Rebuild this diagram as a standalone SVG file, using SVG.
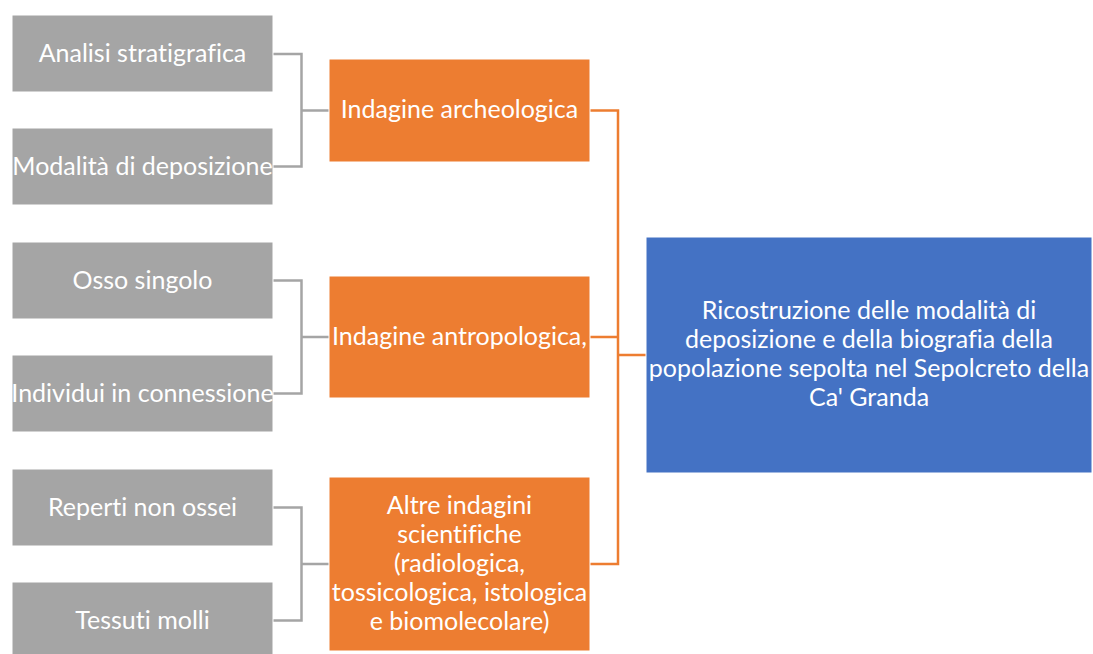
<svg xmlns="http://www.w3.org/2000/svg" width="1093" height="654" viewBox="0 0 1093 654">
<style>
.g{fill:#A5A5A5;stroke:#FFFFFF;stroke-width:1}
.o{fill:#ED7D31;stroke:#FFFFFF;stroke-width:1}
.b{fill:#4472C4;stroke:#FFFFFF;stroke-width:1}
.t{font-family:Lato,"Open Sans","Liberation Sans",sans-serif;font-size:25px;fill:#FFFFFF;text-anchor:middle;font-variant-ligatures:none;font-feature-settings:"liga" 0,"clig" 0,"dlig" 0}
.cg{fill:none;stroke:#A5A5A5;stroke-width:2.5}
.co{fill:none;stroke:#ED7D31;stroke-width:2.5}
</style>
<rect width="1093" height="654" fill="#FFFFFF"/>
<g id="connectors">
<path class="cg" d="M273,54 H301.5 V166.5 H273 M301.5,110.5 H329"/>
<path class="cg" d="M273,280.5 H301.5 V393.5 H273 M301.5,337 H329"/>
<path class="cg" d="M273,507.5 H301.5 V620.5 H273 M301.5,564 H329"/>
<path class="co" d="M590,110.5 H618 V564 H590 M590,337 H618 M618,355 H646"/>
</g>
<g id="n1"><rect class="g" x="12" y="15" width="261" height="77"/><text class="t" x="142.5" y="62">Analisi stratigrafica</text></g>
<g id="n2"><rect class="g" x="12" y="128" width="261" height="77"/><text class="t" x="142.5" y="175">Modalità di deposizione</text></g>
<g id="n3"><rect class="g" x="12" y="242" width="261" height="77"/><text class="t" x="142.5" y="289">Osso singolo</text></g>
<g id="n4"><rect class="g" x="12" y="355" width="261" height="77"/><text class="t" x="142.5" y="402">Individui in connessione</text></g>
<g id="n5"><rect class="g" x="12" y="469" width="261" height="77"/><text class="t" x="142.5" y="516">Reperti non ossei</text></g>
<g id="n6"><rect class="g" x="12" y="582" width="261" height="77"/><text class="t" x="142.5" y="629">Tessuti molli</text></g>
<g id="o1"><rect class="o" x="329" y="59" width="261" height="103"/><text class="t" x="459.5" y="118">Indagine archeologica</text></g>
<g id="o2"><rect class="o" x="329" y="276" width="261" height="122"/><text class="t" x="459.5" y="345">Indagine antropologica,</text></g>
<g id="o3"><rect class="o" x="329" y="477" width="261" height="174"/>
<text class="t" x="459.5" y="514">Altre indagini</text>
<text class="t" x="459.5" y="543">scientifiche</text>
<text class="t" x="459.5" y="572">(radiologica,</text>
<text class="t" x="459.5" y="601">tossicologica, istologica</text>
<text class="t" x="459.5" y="630">e biomolecolare)</text></g>
<g id="r"><rect class="b" x="646" y="237" width="446" height="236"/>
<text class="t" x="869" y="319">Ricostruzione delle modalità di</text>
<text class="t" x="869" y="348">deposizione e della biografia della</text>
<text class="t" x="869" y="377">popolazione sepolta nel Sepolcreto della</text>
<text class="t" x="869" y="406">Ca' Granda</text></g>
</svg>
